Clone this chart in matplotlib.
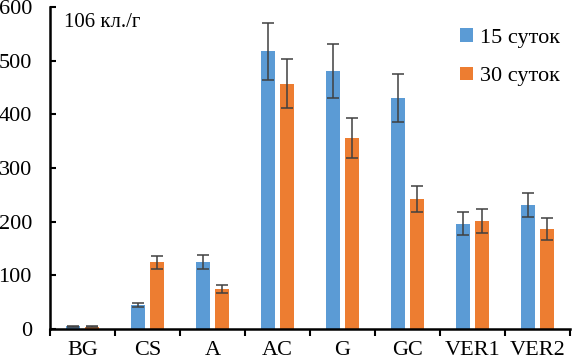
import numpy as np
import matplotlib
matplotlib.use("Agg")
import matplotlib.pyplot as plt

plt.rcParams['font.family'] = ['Liberation Serif', 'DejaVu Serif']

categories = ['BG', 'CS', 'A', 'AC', 'G', 'GC', 'VER1', 'VER2']
days15 = [5, 45, 125, 517, 480, 430, 196, 231]
days15_err = [1, 4, 13, 53, 50, 45, 21, 23]
days30 = [4, 124, 74, 457, 356, 242, 201, 186]
days30_err = [1, 12, 8, 46, 37, 25, 22, 20]

fig = plt.figure(figsize=(5.74, 3.61), dpi=100)
ax = fig.add_axes([0.087, 0.089, 0.906, 0.892])

x = np.arange(len(categories))
w = 0.22
ekw = dict(ecolor='#404040', elinewidth=1.1, capsize=4, capthick=1.1)
ax.bar(x - 0.145, days15, w, yerr=days15_err, color='#5B9BD5', label='15 суток', error_kw=ekw)
ax.bar(x + 0.145, days30, w, yerr=days30_err, color='#ED7D31', label='30 суток', error_kw=ekw)

ax.set_xlim(-0.5, len(categories) - 0.5)
ax.set_ylim(0, 600)
ax.set_yticks(np.arange(0, 601, 100))
ax.set_xticks(x)
ax.set_xticklabels(categories, fontsize=16)
ax.set_xticks(np.arange(-0.5, len(categories), 1), minor=True)
ax.tick_params(axis='x', which='major', length=0, pad=9)
ax.tick_params(axis='x', which='minor', length=5, width=1.5, direction='out')
ax.tick_params(axis='y', labelsize=16, length=4, width=1.5, direction='in', pad=13)
for s in ['top', 'right']:
    ax.spines[s].set_visible(False)
for s in ['left', 'bottom']:
    ax.spines[s].set_linewidth(1.8)

ax.text(0.027, 0.98, '106 кл./г', transform=ax.transAxes, fontsize=15, va='top', ha='left')
ax.legend(loc='upper right', bbox_to_anchor=(1.02, 0.995), frameon=False, fontsize=16,
          handlelength=0.55, handleheight=0.55, handletextpad=0.35, labelspacing=0.85)

fig.savefig('out.png', dpi=100)
